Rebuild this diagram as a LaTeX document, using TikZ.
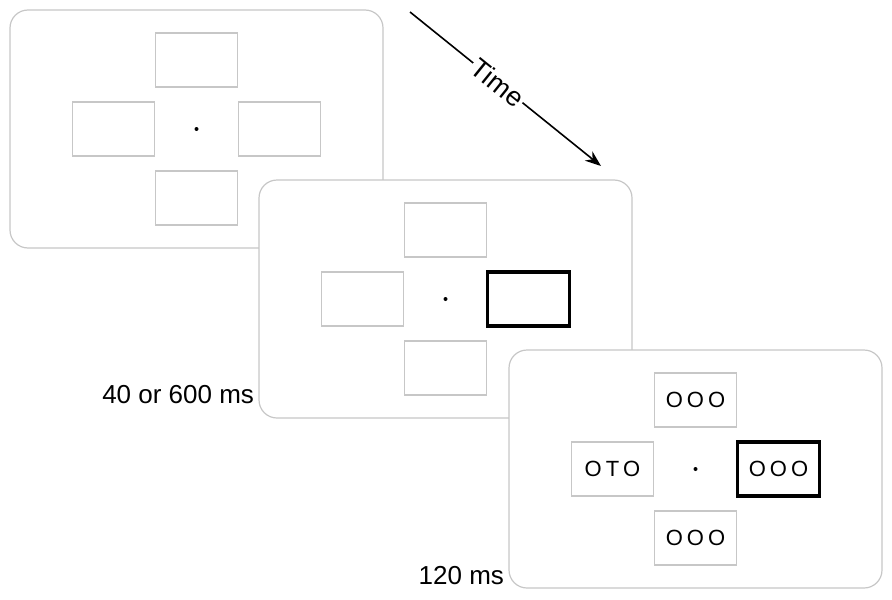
\documentclass[tikz,border=0pt]{standalone}
\usepackage{fontspec}
\setmainfont{Liberation Sans}
\usetikzlibrary{calc,arrows.meta}
\tikzset{
  screen/.style={draw=black!22, fill=white, rounded corners=9pt, line width=0.6pt,
    minimum width=186.5pt, minimum height=119pt},
  slot/.style={draw=black!22, line width=0.7pt, inner sep=0pt,
    minimum width=41pt, minimum height=27pt, font=\fontsize{11}{13}\selectfont},
  cue/.style={slot, draw=black, line width=1.7pt},
  fix/.style={circle, fill=black, inner sep=0pt, minimum size=2pt},
  lbl/.style={font=\fontsize{13}{15}\selectfont, inner sep=0pt}
}
\def\trio#1#2#3{#1\kern2pt#2\kern2pt#3}

\begin{document}
\begin{tikzpicture}[x=0.5pt, y=-0.5pt]
  \useasboundingbox (0,0) rectangle (892,599);

  %%% first display: placeholders only
  \node[screen] (s1) at (196.5,129) {};
  \node[fix] (f1) at (s1) {};
  \node[slot] (b1t) at ($(s1)+(0,-69)$) {};
  \node[slot] (b1l) at ($(s1)+(-83,0)$) {};
  \node[slot] (b1r) at ($(s1)+(83,0)$) {};
  \node[slot] (b1b) at ($(s1)+(0,69)$) {};

  %%% second display: cue on the right
  \node[screen] (s2) at (445.5,299) {};
  \node[fix] (f2) at (s2) {};
  \node[slot] (b2t) at ($(s2)+(0,-69)$) {};
  \node[slot] (b2l) at ($(s2)+(-83,0)$) {};
  \node[cue]  (b2r) at ($(s2)+(83,0)$) {};
  \node[slot] (b2b) at ($(s2)+(0,69)$) {};
  \node[lbl, anchor=east] (t2) at ($(s2.south west)+(-4,-24)$) {40 or 600 ms};

  %%% third display: letters
  \node[screen] (s3) at (695.5,469) {};
  \node[fix] (f3) at (s3) {};
  \node[slot] (b3t) at ($(s3)+(0,-69)$) {\trio OOO};
  \node[slot] (b3l) at ($(s3)+(-83,0)$) {\trio OTO};
  \node[cue]  (b3r) at ($(s3)+(83,0)$) {\trio OOO};
  \node[slot] (b3b) at ($(s3)+(0,69)$) {\trio OOO};
  \node[lbl, anchor=east] (t3) at ($(s3.south west)+(-4,-13)$) {120 ms};

  %%% time arrow
  \coordinate (ta) at (410,12);
  \coordinate (tb) at (601,166);
  \draw[line width=0.8pt, -{Stealth[length=8pt, width=6pt]}] (ta) --
    node[pos=0.46, sloped, fill=white, inner sep=1pt, font=\fontsize{13.5}{15}\selectfont] (tt) {Time} (tb);
\end{tikzpicture}
\end{document}
